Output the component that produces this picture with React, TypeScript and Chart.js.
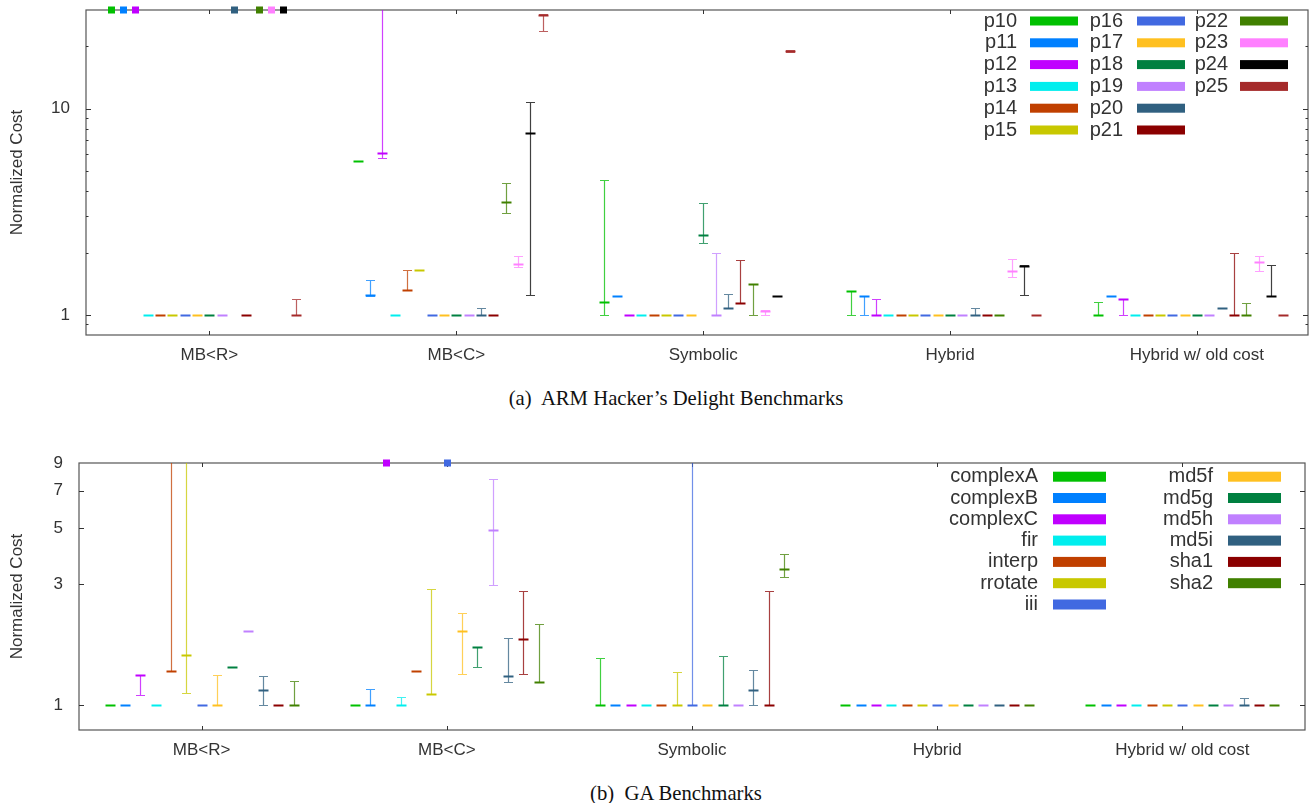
import React, { useEffect, useRef } from 'react';
import { Chart, registerables } from 'chart.js';

Chart.register(...registerables);

// value meaning "beyond the top of the axis"
const OFF = 1000;

const categories = ['MB<R>', 'MB<C>', 'Symbolic', 'Hybrid', 'Hybrid w/ old cost'];

// ---------- (a) ARM Hacker's Delight: [min, median, max] per category ----------
const topNames = ['p10', 'p11', 'p12', 'p13', 'p14', 'p15', 'p16', 'p17', 'p18', 'p19', 'p20', 'p21', 'p22', 'p23', 'p24', 'p25'];
const p10 = [[OFF, OFF, OFF], [5.6, 5.6, 5.6], [1, 1.15, 4.5], [1, 1.31, 1.31], [1, 1, 1.16]];
const p11 = [[OFF, OFF, OFF], [1.24, 1.25, 1.48], [1.24, 1.24, 1.24], [1, 1.24, 1.24], [1.235, 1.235, 1.235]];
const p12 = [[OFF, OFF, OFF], [5.78, 6.08, OFF], [1, 1, 1], [1, 1, 1.19], [1, 1.19, 1.19]];
const p13 = [[1, 1, 1], [1, 1, 1], [1, 1, 1], [1, 1, 1], [1, 1, 1]];
const p14 = [[1, 1, 1], [1.32, 1.32, 1.66], [1, 1, 1], [1, 1, 1], [1, 1, 1]];
const p15 = [[1, 1, 1], [1.65, 1.65, 1.65], [1, 1, 1], [1, 1, 1], [1, 1, 1]];
const p16 = [[1, 1, 1], [1, 1, 1], [1, 1, 1], [1, 1, 1], [1, 1, 1]];
const p17 = [[1, 1, 1], [1, 1, 1], [1, 1, 1], [1, 1, 1], [1, 1, 1]];
const p18 = [[1, 1, 1], [1, 1, 1], [2.24, 2.45, 3.5], [1, 1, 1], [1, 1, 1]];
const p19 = [[1, 1, 1], [1, 1, 1], [1, 1, 1.99], [1, 1, 1], [1, 1, 1]];
const p20 = [[OFF, OFF, OFF], [1, 1, 1.085], [1.08, 1.08, 1.26], [1, 1, 1.085], [1.077, 1.077, 1.077]];
const p21 = [[1, 1, 1], [1, 1, 1], [1.14, 1.14, 1.84], [1, 1, 1], [1, 1, 1.99]];
const p22 = [[OFF, OFF, OFF], [3.13, 3.53, 4.38], [1, 1.42, 1.42], [1, 1, 1], [1, 1, 1.14]];
const p23 = [[OFF, OFF, OFF], [1.71, 1.76, 1.92], [1, 1.05, 1.057], [1.52, 1.63, 1.87], [1.64, 1.8, 1.93]];
const p24 = [[OFF, OFF, OFF], [1.245, 7.63, 10.7], [1.24, 1.24, 1.24], [1.245, 1.72, 1.74], [1.24, 1.24, 1.74]];
const p25 = [[1, 1, 1.19], [23.8, 28.5, 28.7], [18.7, 19, 19.3], [1, 1, 1], [1, 1, 1]];
const topYTicks = [0.9, 1, 2, 3, 4, 5, 6, 7, 8, 9, 10, 20, 30];
const topYLabels = [1, 10];

// ---------- (b) GA Benchmarks ----------
const botNames = ['complexA', 'complexB', 'complexC', 'fir', 'interp', 'rrotate', 'iii', 'md5f', 'md5g', 'md5h', 'md5i', 'sha1', 'sha2'];
const complexA = [[1, 1, 1], [1, 1, 1], [1, 1, 1.54], [1, 1, 1], [1, 1, 1]];
const complexB = [[1, 1, 1], [1, 1, 1.165], [1, 1, 1], [1, 1, 1], [1, 1, 1]];
const complexC = [[1.1, 1.32, 1.32], [OFF, OFF, OFF], [1, 1, 1], [1, 1, 1], [1, 1, 1]];
const fir = [[1, 1, 1], [1, 1, 1.08], [1, 1, 1], [1, 1, 1], [1, 1, 1]];
const interp = [[1.37, 1.37, OFF], [1.36, 1.36, 1.36], [1, 1, 1], [1, 1, 1], [1, 1, 1]];
const rrotate = [[1.117, 1.58, OFF], [1.11, 1.11, 2.87], [1, 1, 1.35], [1, 1, 1], [1, 1, 1]];
const iii = [[1, 1, 1], [OFF, OFF, OFF], [1, 1, OFF], [1, 1, 1], [1, 1, 1]];
const md5f = [[1, 1, 1.32], [1.324, 1.97, 2.32], [1, 1, 1], [1, 1, 1], [1, 1, 1]];
const md5g = [[1.41, 1.41, 1.41], [1.418, 1.7, 1.7], [1, 1, 1.57], [1, 1, 1], [1, 1, 1]];
const md5h = [[1.97, 1.97, 1.97], [2.98, 4.91, 7.8], [1, 1, 1], [1, 1, 1], [1, 1, 1]];
const md5i = [[1, 1.147, 1.31], [1.236, 1.31, 1.84], [1, 1.147, 1.38], [1, 1, 1], [1, 1, 1.07]];
const sha1 = [[1, 1, 1], [1.324, 1.82, 2.81], [1, 1, 2.81], [1, 1, 1], [1, 1, 1]];
const sha2 = [[1, 1, 1.248], [1.24, 1.24, 2.1], [3.2, 3.45, 3.95], [1, 1, 1], [1, 1, 1]];
const botYTicks = [1, 3, 5, 7, 9];
const botYLabels = [1, 3, 5, 7, 9];

const palette = ['#00c000', '#0080ff', '#c000ff', '#00eeee', '#c04000', '#c8c800', '#4169e1', '#ffc020', '#008040', '#c080ff', '#306080', '#8b0000', '#408000', '#ff80ff', '#000000', '#a52a2a'];

const SANS = '"Liberation Sans", Arial, sans-serif';
const TEXT = '#333333';

type Panel = {
  names: string[];
  series: number[][][];
  centerIndex: number;
  step: number;
  yMin: number;
  yMax: number;
  xMax: number;
  yTicks: number[];
  yLabels: number[];
  height: number;
  padTop: number;
  padRight: number;
  yWidth: number;
  xHeight: number;
  legend: { cols: number[][]; textRight: number[]; swatchLeft: number[]; swatchW: number; swatchH: number; y0: number; dy: number };
};

const topPanel: Panel = {
  names: topNames,
  series: [p10, p11, p12, p13, p14, p15, p16, p17, p18, p19, p20, p21, p22, p23, p24, p25],
  centerIndex: 8,
  step: 0.05,
  yMin: 0.8,
  yMax: 30,
  xMax: 4.45,
  yTicks: topYTicks,
  yLabels: topYLabels,
  height: 380,
  padTop: 10,
  padRight: 2,
  yWidth: 86,
  xHeight: 45,
  legend: { cols: [[0, 1, 2, 3, 4, 5], [6, 7, 8, 9, 10, 11], [12, 13, 14, 15]], textRight: [1017, 1123, 1228], swatchLeft: [1030, 1137, 1240], swatchW: 48, swatchH: 9, y0: 21, dy: 21.8 },
};

const botPanel: Panel = {
  names: botNames,
  series: [complexA, complexB, complexC, fir, interp, rrotate, iii, md5f, md5g, md5h, md5i, sha1, sha2],
  centerIndex: 6,
  step: 0.0625,
  yMin: 0.8,
  yMax: 9,
  xMax: 4.5,
  yTicks: botYTicks,
  yLabels: botYLabels,
  height: 330,
  padTop: 23,
  padRight: 5,
  yWidth: 79,
  xHeight: 40,
  legend: { cols: [[0, 1, 2, 3, 4, 5, 6], [7, 8, 9, 10, 11, 12]], textRight: [1038, 1213], swatchLeft: [1053, 1228], swatchW: 53, swatchH: 10, y0: 36.7, dy: 21.3 },
};

const gnuplotPlugin = {
  id: 'gnuplot',
  afterDatasetsDraw(chart: any, _args: any, opts: any) {
    const panel: Panel = opts.panel;
    const { ctx, chartArea: a } = chart;
    const x = chart.scales.x;
    const y = chart.scales.y;
    ctx.save();
    // frame
    ctx.strokeStyle = '#555555';
    ctx.lineWidth = 1.2;
    ctx.strokeRect(a.left, a.top, a.right - a.left, a.bottom - a.top);
    // inward y ticks (left + right)
    ctx.lineWidth = 1;
    ctx.strokeStyle = '#333333';
    y.ticks.forEach((t: any) => {
      const py = Math.round(y.getPixelForValue(t.value)) + 0.5;
      if (py < a.top + 1 || py > a.bottom - 1) return;
      const len = panel.yLabels.includes(t.value) ? 5 : 2.5;
      ctx.beginPath();
      ctx.moveTo(a.left, py);
      ctx.lineTo(a.left + len, py);
      ctx.moveTo(a.right, py);
      ctx.lineTo(a.right - len, py);
      ctx.stroke();
    });
    // inward x ticks (bottom + top)
    x.ticks.forEach((t: any) => {
      const px = Math.round(x.getPixelForValue(t.value)) + 0.5;
      ctx.beginPath();
      ctx.moveTo(px, a.bottom);
      ctx.lineTo(px, a.bottom - 4);
      ctx.moveTo(px, a.top);
      ctx.lineTo(px, a.top + 4);
      ctx.stroke();
    });
    // error bars
    chart.data.datasets.forEach((ds: any) => {
      const color = ds.borderColor;
      ds.data.forEach((pt: any) => {
        const px = Math.round(x.getPixelForValue(pt.x)) + 0.5;
        if (pt.y > panel.yMax) {
          ctx.globalAlpha = 1;
          ctx.fillStyle = color;
          ctx.fillRect(px - 3.5, a.top - 3.5, 7, 7);
          return;
        }
        const yLo = Math.round(y.getPixelForValue(pt.lo)) + 0.5;
        const hiOff = pt.hi > panel.yMax;
        const yHi = hiOff ? a.top : Math.round(y.getPixelForValue(pt.hi)) + 0.5;
        const yMed = Math.round(y.getPixelForValue(pt.y)) + 0.5;
        ctx.strokeStyle = color;
        if (yLo - yHi > 1) {
          ctx.globalAlpha = 0.75;
          ctx.lineWidth = 1.2;
          ctx.beginPath();
          ctx.moveTo(px, yLo);
          ctx.lineTo(px, yHi);
          ctx.moveTo(px - 4.5, yLo);
          ctx.lineTo(px + 4.5, yLo);
          if (!hiOff) {
            ctx.moveTo(px - 4.5, yHi);
            ctx.lineTo(px + 4.5, yHi);
          }
          ctx.stroke();
        }
        ctx.globalAlpha = 1;
        ctx.lineWidth = 2;
        ctx.beginPath();
        ctx.moveTo(px - 5, yMed);
        ctx.lineTo(px + 5, yMed);
        ctx.stroke();
      });
    });
    // key
    ctx.globalAlpha = 1;
    const L = panel.legend;
    ctx.font = `20px ${SANS}`;
    ctx.textAlign = 'right';
    ctx.textBaseline = 'middle';
    L.cols.forEach((col, c) => {
      col.forEach((k, r) => {
        const cy = L.y0 + r * L.dy;
        ctx.fillStyle = TEXT;
        ctx.fillText(panel.names[k], L.textRight[c], cy);
        ctx.fillStyle = palette[k];
        ctx.fillRect(L.swatchLeft[c], cy - L.swatchH / 2, L.swatchW, L.swatchH);
      });
    });
    ctx.restore();
  },
};

function buildChart(canvas: HTMLCanvasElement, panel: Panel) {
  const datasets = panel.names.map((name, k) => ({
    label: name,
    borderColor: palette[k],
    backgroundColor: palette[k],
    pointRadius: 0,
    showLine: false,
    data: panel.series[k].map((t, i) => ({ x: i + (k - panel.centerIndex) * panel.step, y: t[1], lo: t[0], hi: t[2] })),
  }));
  return new Chart(canvas, {
    type: 'scatter',
    data: { datasets },
    plugins: [gnuplotPlugin],
    options: {
      animation: false,
      responsive: false,
      events: [],
      layout: { padding: { top: panel.padTop, right: panel.padRight, left: 0, bottom: 0 } },
      plugins: {
        legend: { display: false },
        tooltip: { enabled: false },
        gnuplot: { panel },
      } as any,
      scales: {
        x: {
          type: 'linear',
          min: -0.5,
          max: panel.xMax,
          bounds: 'data',
          grid: { display: false, drawTicks: false },
          border: { display: false },
          afterBuildTicks: (s: any) => {
            s.ticks = categories.map((_, i) => ({ value: i }));
          },
          afterFit: (s: any) => {
            s.height = panel.xHeight;
            s.paddingLeft = 0;
            s.paddingRight = 0;
          },
          ticks: {
            autoSkip: false,
            maxRotation: 0,
            padding: 10,
            color: TEXT,
            font: { family: SANS, size: 17 },
            callback: (_v: any, i: number) => categories[i],
          },
        },
        y: {
          type: 'logarithmic',
          min: panel.yMin,
          max: panel.yMax,
          bounds: 'data',
          grid: { display: false, drawTicks: false },
          border: { display: false },
          afterBuildTicks: (s: any) => {
            s.ticks = panel.yTicks.map((v) => ({ value: v }));
          },
          afterFit: (s: any) => {
            s.width = panel.yWidth;
            s.paddingTop = 0;
            s.paddingBottom = 0;
          },
          ticks: {
            autoSkip: false,
            padding: 16,
            color: TEXT,
            font: { family: SANS, size: 17 },
            callback: (v: any) => (panel.yLabels.includes(Number(v)) ? String(v) : ''),
          },
          title: {
            display: true,
            text: 'Normalized Cost',
            color: TEXT,
            font: { family: SANS, size: 17 },
            padding: { top: 7, bottom: 0 },
          },
        },
      },
    } as any,
  });
}

const captionStyle: React.CSSProperties = {
  position: 'absolute',
  left: 676,
  transform: 'translateX(-50%)',
  fontFamily: '"Liberation Serif", "Times New Roman", serif',
  fontSize: 20.7,
  lineHeight: '24px',
  whiteSpace: 'pre',
  color: '#111',
};

export default function App() {
  const topRef = useRef<HTMLCanvasElement>(null);
  const botRef = useRef<HTMLCanvasElement>(null);
  useEffect(() => {
    const c1 = buildChart(topRef.current!, topPanel);
    const c2 = buildChart(botRef.current!, botPanel);
    return () => {
      c1.destroy();
      c2.destroy();
    };
  }, []);
  return (
    <div style={{ position: 'absolute', left: 0, top: 0, width: 1310, height: 803, background: '#fff', overflow: 'hidden' }}>
      <canvas ref={topRef} width={1310} height={topPanel.height} style={{ position: 'absolute', left: 0, top: 0 }} />
      <div style={{ ...captionStyle, top: 386 }}>{'(a)  ARM Hacker\u2019s Delight Benchmarks'}</div>
      <canvas ref={botRef} width={1310} height={botPanel.height} style={{ position: 'absolute', left: 0, top: 440 }} />
      <div style={{ ...captionStyle, top: 781 }}>{'(b)  GA Benchmarks'}</div>
    </div>
  );
}
